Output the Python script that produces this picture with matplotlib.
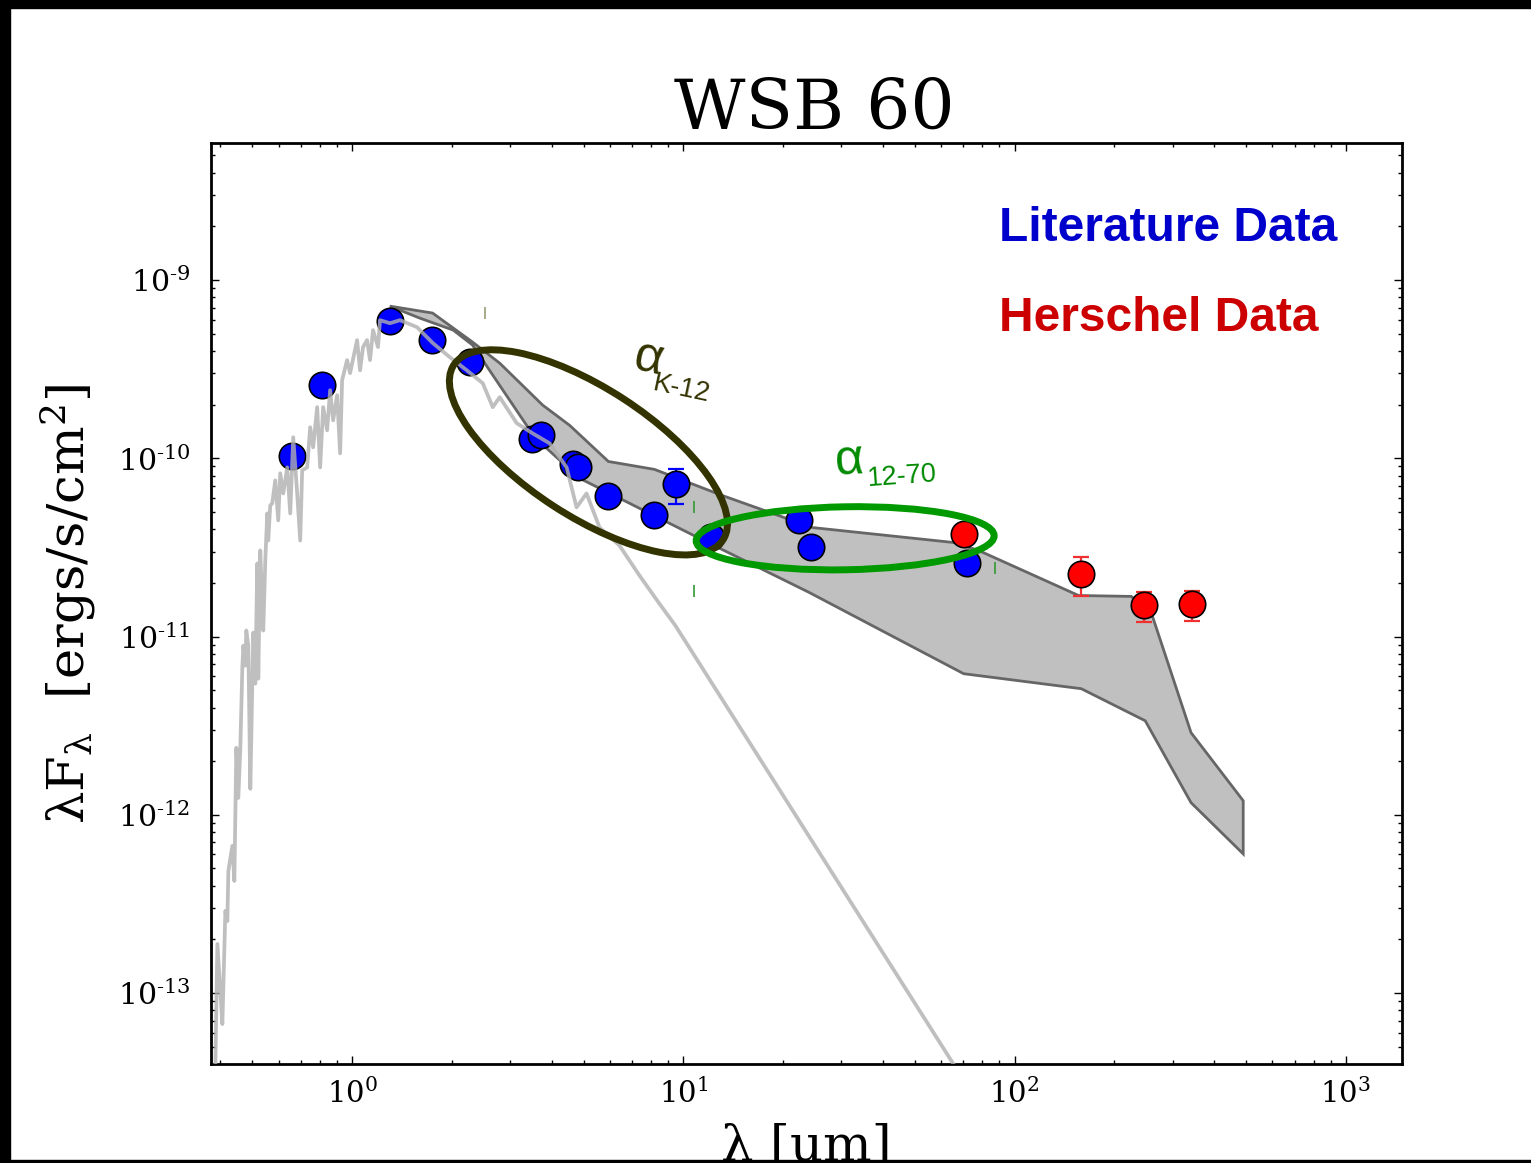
import numpy as np
import matplotlib
matplotlib.use("Agg")
import matplotlib.pyplot as plt
from matplotlib.patches import Ellipse, Rectangle
from matplotlib import transforms
from matplotlib.ticker import FuncFormatter

plt.rcParams["font.family"] = "DejaVu Serif"
plt.rcParams["mathtext.fontset"] = "dejavuserif"
plt.rcParams["axes.unicode_minus"] = False

# ---- literature photometry (microns, erg/s/cm^2) ----
lit_wave = [0.66, 0.81, 1.30, 1.74, 2.27, 3.49, 3.71, 4.66, 4.80, 5.94,
            8.18, 9.52, 12.1, 22.3, 24.3, 71.7]
lit_flux = [1.03e-10, 2.57e-10, 5.89e-10, 4.60e-10, 3.46e-10, 1.29e-10,
            1.36e-10, 9.25e-11, 8.90e-11, 6.12e-11, 4.84e-11, 7.15e-11,
            3.60e-11, 4.49e-11, 3.20e-11, 2.60e-11]
lit_err_lo = [0, 0, 0, 0, 0, 0, 0, 0, 0, 0, 0, 1.63e-11, 0, 0, 0, 0]
lit_err_hi = [0, 0, 0, 0, 0, 0, 0, 0, 0, 0, 0, 1.52e-11, 0, 0, 0, 0]

# ---- Herschel photometry ----
her_wave = [70.2, 159.0, 246.0, 344.0]
her_flux = [3.74e-11, 2.23e-11, 1.51e-11, 1.53e-11]
her_err_lo = [0.20e-11, 0.55e-11, 0.30e-11, 0.31e-11]
her_err_hi = [0.20e-11, 0.55e-11, 0.28e-11, 0.27e-11]

# ---- disk model envelope ----
env_wave_upper = [1.30, 1.75, 2.31, 2.79, 3.76, 4.54, 5.94, 8.18, 13.1,
                  24.5, 65.5, 77.9, 156.0, 225.0, 259.0, 341.0, 490.0]
env_flux_upper = [7.14e-10, 6.53e-10, 4.49e-10, 3.42e-10, 1.99e-10,
                  1.53e-10, 9.60e-11, 8.67e-11, 6.19e-11, 4.09e-11,
                  3.37e-11, 3.04e-11, 1.70e-11, 1.68e-11, 1.35e-11,
                  2.89e-12, 1.20e-12]
env_wave_lower = [1.30, 1.60, 2.02, 2.31, 3.56, 4.86, 11.18, 23.96, 70.2,
                  159.0, 248.0, 341.0, 490.0]
env_flux_lower = [7.14e-10, 6.12e-10, 5.24e-10, 4.32e-10, 1.31e-10,
                  7.73e-11, 3.56e-11, 1.77e-11, 6.19e-12, 5.10e-12,
                  3.37e-12, 1.17e-12, 6.04e-13]

# ---- stellar photosphere (log10 micron, log10 erg/s/cm^2) ----
spec_log_wave = [-0.4127, -0.4066, -0.3976, -0.3916, -0.3825, -0.3765,
                 -0.3735, -0.3614, -0.3554, -0.3494, -0.3434, -0.3373,
                 -0.3313, -0.3283, -0.3223, -0.3193, -0.3132, -0.3072,
                 -0.3012, -0.2982, -0.2922, -0.2861, -0.2831, -0.2771,
                 -0.2711, -0.2681, -0.2620, -0.2560, -0.2530, -0.2470,
                 -0.2410, -0.2319, -0.2229, -0.2169, -0.2078, -0.1958,
                 -0.1867, -0.1777, -0.1657, -0.1566, -0.1506, -0.1355,
                 -0.1265, -0.1175, -0.1054, -0.0964, -0.0873, -0.0753,
                 -0.0663, -0.0572, -0.0452, -0.0361, -0.0301, -0.0151,
                 -0.0060, 0.0151, 0.0241, 0.0331, 0.0452, 0.0542, 0.0633,
                 0.0783, 0.0843, 0.1145, 0.1446, 0.1958, 0.2440, 0.2952,
                 0.3464, 0.3946, 0.4247, 0.4458, 0.4970, 0.5452, 0.5964,
                 0.6476, 0.6777, 0.7078, 0.7470, 0.8072, 0.8675, 0.9277,
                 0.9759, 1.9031]
spec_log_flux = [-13.399, -12.725, -12.989, -13.174, -12.539, -12.596,
                 -12.315, -12.174, -12.371, -11.624, -11.905, -11.624,
                 -11.174, -11.051, -11.163, -10.966, -11.051, -11.854,
                 -11.264, -10.978, -11.264, -10.590, -11.236, -10.517,
                 -10.837, -10.966, -10.573, -10.309, -10.461, -10.264,
                 -10.253, -10.124, -10.348, -10.084, -10.197, -10.051,
                 -10.309, -9.882, -10.197, -10.461, -10.067, -10.051,
                 -9.826, -9.938, -9.713, -10.051, -9.713, -9.843, -9.618,
                 -9.787, -9.646, -9.972, -9.562, -9.449, -9.522, -9.337,
                 -9.506, -9.376, -9.337, -9.449, -9.281, -9.376, -9.225,
                 -9.242, -9.225, -9.264, -9.354, -9.433, -9.506, -9.579,
                 -9.713, -9.657, -9.803, -9.860, -9.916, -10.051, -10.275,
                 -10.197, -10.388, -10.489, -10.657, -10.815, -10.938,
                 -13.655]

fig = plt.figure(figsize=(15.31, 11.63), dpi=100)
ax = fig.add_axes([0.1378, 0.0851, 0.7779, 0.7919])
ax.set_xscale("log")
ax.set_yscale("log")
ax.set_xlim(0.375, 1477)
ax.set_ylim(4.0e-14, 5.87e-9)

# model envelope
poly_x = list(env_wave_upper) + list(env_wave_lower[::-1])
poly_y = list(env_flux_upper) + list(env_flux_lower[::-1])
ax.fill(poly_x, poly_y, facecolor="#c0c0c0", edgecolor="#666666",
        linewidth=2.0, zorder=1)

# photometry
lw_arr = np.array(lit_wave)
lf_arr = np.array(lit_flux)
lo = np.array(lit_err_lo)
hi = np.array(lit_err_hi)
m = (lo > 0) | (hi > 0)
ax.errorbar(lw_arr[m], lf_arr[m], yerr=[lo[m], hi[m]], fmt="none",
            ecolor="#0000ff", elinewidth=1.6, capsize=6, capthick=1.6,
            zorder=2)
ax.plot(lit_wave, lit_flux, "o", ms=19, mfc="#0000ff", mec="black",
        mew=1.2, zorder=3)

ax.errorbar(her_wave, her_flux, yerr=[her_err_lo, her_err_hi], fmt="none",
            ecolor="#ee3030", elinewidth=1.6, capsize=6, capthick=1.6,
            zorder=2)
ax.plot(her_wave, her_flux, "o", ms=19, mfc="#ff0000", mec="black",
        mew=1.2, zorder=3)

# photosphere
ax.plot(10 ** np.array(spec_log_wave), 10 ** np.array(spec_log_flux),
        color="#b0b0b0", lw=2.7, alpha=0.8, zorder=4)

# small tick marks
ax.plot([2.515], [6.53e-10], "|", ms=8, mew=1.2, color="#999977", zorder=4)
ax.plot([10.79, 10.79, 87.0], [5.31e-11, 1.81e-11, 2.41e-11], "|", ms=8,
        mew=1.2, color="#339933", zorder=4)


def ring(x, y, w_in, h_in, angle, color, lw):
    tr = fig.dpi_scale_trans + transforms.ScaledTranslation(x, y, ax.transData)
    e = Ellipse((0, 0), w_in, h_in, angle=angle, transform=tr, fill=False,
                edgecolor=color, linewidth=lw, zorder=6, clip_on=False)
    ax.add_patch(e)


ring(5.17, 1.08e-10, 3.21, 1.28, -33, "#333300", 5.0)
ring(30.8, 3.56e-11, 2.98, 0.63, 1, "#009900", 5.0)

sans = "Liberation Sans"
ax.text(0.3530, 0.7550, "\u03b1", transform=ax.transAxes, fontsize=36,
        family=sans, color="#333300", rotation=-12, rotation_mode="anchor",
        ha="left", va="baseline", zorder=7)
ax.text(0.3700, 0.7318, "K-12", transform=ax.transAxes, fontsize=19.5,
        family=sans, color="#333300", rotation=-12, rotation_mode="anchor",
        ha="left", va="baseline", zorder=7)
ax.text(0.5250, 0.6395, "\u03b1", transform=ax.transAxes, fontsize=36,
        family=sans, color="#008a00", rotation=4, rotation_mode="anchor",
        ha="left", va="baseline", zorder=7)
ax.text(0.5516, 0.6276, "12-70", transform=ax.transAxes, fontsize=19.5,
        family=sans, color="#008a00", rotation=4, rotation_mode="anchor",
        ha="left", va="baseline", zorder=7)

ax.text(0.6616, 0.8936, "Literature Data", transform=ax.transAxes,
        fontsize=34.5, family=sans, weight="bold", color="#0000cc",
        ha="left", va="baseline")
ax.text(0.6616, 0.7955, "Herschel Data", transform=ax.transAxes,
        fontsize=34.5, family=sans, weight="bold", color="#cc0000",
        ha="left", va="baseline")

ax.set_title("WSB 60", fontsize=50, pad=9.5, x=0.5063)
ax.set_xlabel("\u03bb [um]", fontsize=37)
ax.xaxis.set_label_coords(0.5, -0.063)
ax.set_ylabel("\u03bbF$_{\\mathrm{\u03bb}}$  [ergs/s/cm$^{2}$]", fontsize=37)
ax.yaxis.set_label_coords(-0.12, 0.5)
ax.yaxis.label.set_va("center")


def pow10(v, pos):
    e = int(round(np.log10(v)))
    if e < 0:
        return r"$10^{\text{-}%d}$" % (-e)
    return r"$10^{%d}$" % e


ax.xaxis.set_major_formatter(FuncFormatter(pow10))
ax.yaxis.set_major_formatter(FuncFormatter(pow10))

for s in ax.spines.values():
    s.set_linewidth(2.0)
ax.tick_params(which="both", direction="in", top=True, right=True,
               width=1.0)
ax.tick_params(which="major", length=6)
ax.tick_params(which="minor", length=3)
ax.tick_params(axis="x", labelsize=21, pad=10)
ax.tick_params(axis="y", labelsize=21.5, pad=15)

# black frame strips along the image edges
fig.patches.append(Rectangle((0, 1 - 8 / 1163), 1, 8 / 1163,
                             transform=fig.transFigure, color="black",
                             zorder=10))
fig.patches.append(Rectangle((0, 0), 10 / 1531, 1,
                             transform=fig.transFigure, color="black",
                             zorder=10))
fig.patches.append(Rectangle((0, 0), 1, 3 / 1163,
                             transform=fig.transFigure, color="black",
                             zorder=10))

fig.savefig("out.png", dpi=100)
